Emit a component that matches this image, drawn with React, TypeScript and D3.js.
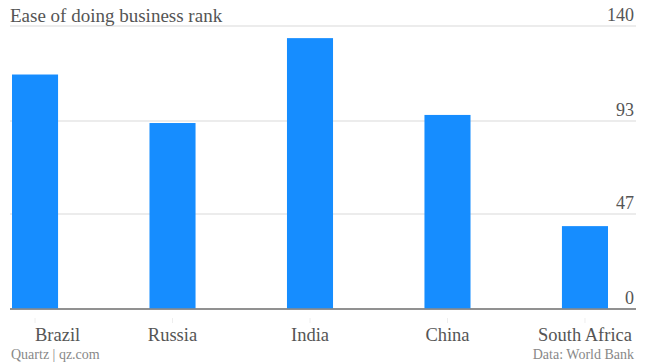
import React from "react";
import * as d3 from "d3";

const categories = ["Brazil", "Russia", "India", "China", "South Africa"];
const values = [116, 92, 134, 96, 41];
const tickValues = [0, 47, 93, 140];
const title = "Ease of doing business rank";
const sourceLeft = "Quartz | qz.com";
const sourceRight = "Data: World Bank";

const W = 645;
const H = 363;
const FONT = "'Liberation Serif', 'DejaVu Serif', serif";

export default function App() {
  const x = d3
    .scaleBand<string>()
    .domain(categories)
    .range([12, 608])
    .paddingInner(0.665)
    .paddingOuter(0);
  const y = d3.scaleLinear().domain([0, 140]).range([309, 26]);

  return (
    <svg
      width={W}
      height={H}
      style={{ position: "absolute", left: 0, top: 0, background: "#fff" }}
      fontFamily={FONT}
    >
      {tickValues.map((t) => (
        <g key={t}>
          <line
            x1={10}
            x2={636}
            y1={y(t)}
            y2={y(t)}
            stroke={t === 0 ? "#8a8a8a" : "#e6e6e6"}
            strokeWidth={1.5}
          />
          <text
            x={634}
            y={y(t) - 5}
            textAnchor="end"
            fontSize={18}
            fill="#555"
          >
            {t}
          </text>
        </g>
      ))}
      <text x={10} y={22} fontSize={19} fill="#555">
        {title}
      </text>
      {categories.map((c, i) => (
        <rect
          key={c}
          x={x(c)}
          y={y(values[i])}
          width={x.bandwidth()}
          height={y(0) - y(values[i])}
          fill="#168dff"
        />
      ))}
      <line x1={10} x2={636} y1={y(0)} y2={y(0)} stroke="#8a8a8a" strokeWidth={1.5} />
      {categories.map((c, i) => {
        const cx = (x(c) as number) + x.bandwidth() / 2;
        const first = i === 0;
        return (
          <g key={c}>
            <line x1={cx} x2={cx} y1={318} y2={323} stroke="#eee" strokeWidth={1} />
            <text
              x={cx}
              y={341}
              textAnchor={first ? "start" : "middle"}
              fontSize={18.5}
              fill="#555"
            >
              {c}
            </text>
          </g>
        );
      })}
      <text x={11} y={359} fontSize={14} fill="#888">
        {sourceLeft}
      </text>
      <text x={634} y={359} textAnchor="end" fontSize={14} fill="#888">
        {sourceRight}
      </text>
    </svg>
  );
}
